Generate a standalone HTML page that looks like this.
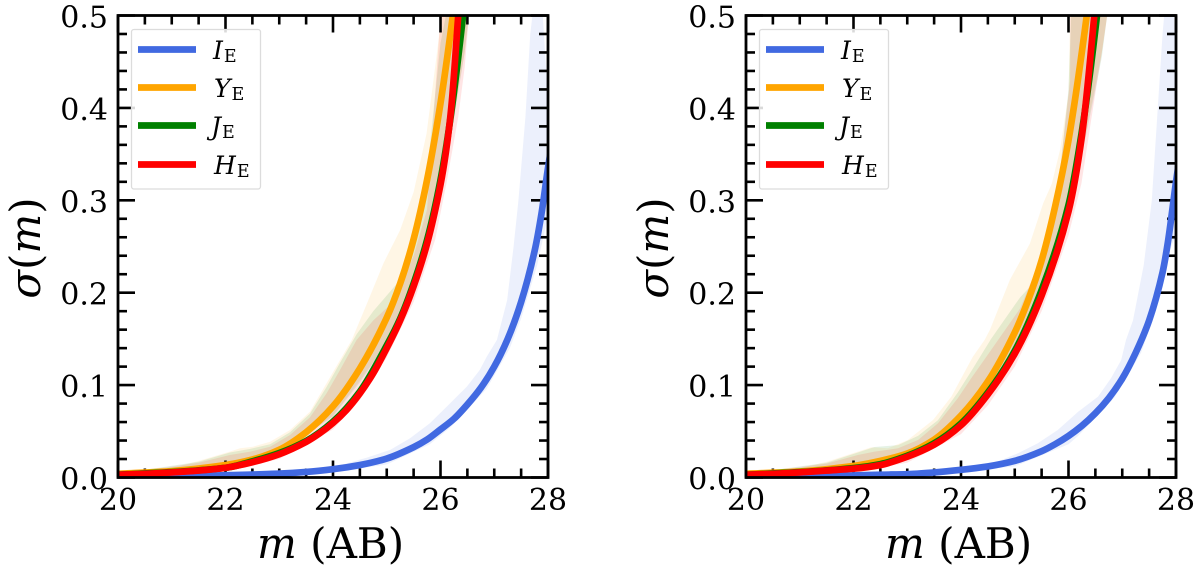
<!DOCTYPE html>
<html>
<head>
<meta charset="utf-8">
<title>Magnitude uncertainty panels</title>
<style>
html,body{margin:0;padding:0;background:#fff;width:1200px;height:568px;overflow:hidden}
svg{display:block}
text{font-family:"DejaVu Serif","Liberation Serif",serif;fill:#000}
</style>
</head>
<body>
<svg id="chart" width="1200" height="568" viewBox="0 0 1200 568" xmlns="http://www.w3.org/2000/svg"></svg>
<script>
// Tick labels
const xTickValues = [20, 22, 24, 26, 28];
const yTickValues = [0.0, 0.1, 0.2, 0.3, 0.4, 0.5];
const xMinorValues = [20.5, 21, 21.5, 22.5, 23, 23.5, 24.5, 25, 25.5, 26.5, 27, 27.5];
const yMinorValues = [0.02, 0.04, 0.06, 0.08, 0.12, 0.14, 0.16, 0.18, 0.22, 0.24, 0.26, 0.28, 0.32, 0.34, 0.36, 0.38, 0.42, 0.44, 0.46, 0.48];

// Left panel: band magnitudes and values [m, sigma]
const leftBlueLine = [[20,0],[21,0.0008],[21.5,0.0016],[22,0.0024],[22.5,0.0032],[23,0.0042],[23.5,0.006],[24,0.009],[24.5,0.0135],[25,0.0205],[25.5,0.0328],[25.75,0.041],[26,0.052],[26.25,0.0635],[26.5,0.079],[26.75,0.097],[27,0.12],[27.25,0.15],[27.5,0.19],[27.75,0.245],[27.88,0.286],[28,0.335],[28.1,0.37]];
const leftOrangeLine = [[20,0.004],[21,0.007],[22,0.0135],[22.5,0.0195],[23,0.03],[23.5,0.049],[24,0.077],[24.5,0.118],[25,0.173],[25.25,0.21],[25.5,0.258],[25.75,0.322],[26,0.405],[26.23,0.5],[26.4,0.58]];
const leftGreenLine = [[20,0.003],[21,0.0058],[22,0.0105],[22.5,0.0175],[23,0.0265],[23.5,0.0395],[24,0.0605],[24.5,0.093],[25,0.143],[25.25,0.172],[25.5,0.21],[25.75,0.257],[26,0.322],[26.2,0.395],[26.42,0.5],[26.6,0.6]];
const leftRedLine = [[20,0.003],[20.5,0.004],[21,0.0055],[21.5,0.0075],[22,0.0105],[22.5,0.0165],[23,0.0252],[23.5,0.0385],[23.75,0.0477],[24,0.059],[24.25,0.073],[24.5,0.091],[24.75,0.113],[25,0.14],[25.25,0.17],[25.5,0.207],[25.75,0.253],[26,0.317],[26.1,0.352],[26.2,0.4],[26.33,0.5],[26.45,0.6]];

const leftBlueUpper = [[20,0],[22,0.003],[23,0.006],[24,0.011],[24.63,0.0215],[25.06,0.0298],[25.43,0.0424],[25.8,0.0586],[26.18,0.0803],[26.49,0.0983],[26.73,0.1163],[26.86,0.1307],[27.05,0.149],[27.24,0.192],[27.36,0.25],[27.45,0.3],[27.58,0.39],[27.67,0.48],[27.71,0.5],[27.8,0.6]];
const leftBlueLower = [[20,0],[22,0.0015],[23,0.003],[24,0.006],[25,0.014],[25.8,0.036],[26.18,0.054],[26.86,0.096],[27.29,0.14],[27.5,0.172],[27.8,0.23],[28.1,0.31]];
const leftOrangeUpper = [[20,0.004],[20.5,0.006],[21,0.01],[21.5,0.018],[22.08,0.028],[22.27,0.0316],[22.51,0.0333],[22.83,0.0387],[23.2,0.0514],[23.57,0.0712],[23.88,0.102],[24.13,0.127],[24.35,0.149],[24.63,0.188],[24.94,0.232],[25.25,0.268],[25.5,0.309],[25.74,0.372],[25.9,0.444],[26.02,0.5],[26.1,0.6]];
const leftOrangeLower = [[20,0.003],[22,0.011],[23,0.027],[24,0.067],[24.5,0.105],[25,0.146],[25.5,0.208],[26,0.31],[26.2,0.38],[26.3,0.41],[26.45,0.46],[26.53,0.5],[26.7,0.6]];
const leftGreenUpper = [[20,0.004],[21.5,0.017],[22.08,0.027],[22.46,0.031],[22.83,0.036],[23.2,0.049],[23.57,0.069],[23.88,0.098],[24.13,0.124],[24.44,0.155],[24.75,0.18],[25.25,0.214],[25.5,0.26],[25.75,0.33],[26,0.47],[26.1,0.5],[26.3,0.6]];
const leftGreenLower = [[20,0.003],[22,0.011],[23,0.026],[24,0.066],[24.5,0.103],[25,0.145],[25.5,0.205],[26,0.3],[26.2,0.37],[26.45,0.46],[26.53,0.5],[26.7,0.6]];
const leftRedUpper = [[20,0.004],[21.5,0.016],[22.08,0.0243],[22.46,0.028],[22.83,0.0333],[23.2,0.046],[23.57,0.0651],[23.88,0.0911],[24.13,0.1163],[24.44,0.149],[24.75,0.17],[25.12,0.19],[25.5,0.24],[25.75,0.29],[26,0.5],[26.1,0.6]];
const leftRedLower = [[20,0.002],[22,0.007],[23,0.02],[24,0.052],[24.5,0.084],[25,0.13],[25.5,0.19],[25.9,0.257],[26.11,0.318],[26.33,0.39],[26.45,0.444],[26.53,0.5],[26.7,0.6]];

// Right panel values [m, sigma]
const rightBlueLine = [[20,0],[21,0.0008],[21.5,0.0015],[22,0.0022],[22.5,0.003],[23,0.0036],[23.5,0.0055],[24,0.0083],[24.5,0.012],[25,0.018],[25.5,0.0285],[25.75,0.036],[26,0.045],[26.25,0.056],[26.5,0.0695],[26.75,0.086],[27,0.107],[27.25,0.135],[27.5,0.17],[27.75,0.222],[27.85,0.255],[28,0.32],[28.05,0.34]];
const rightOrangeLine = [[20,0.004],[21,0.0065],[22,0.0125],[22.5,0.018],[23,0.026],[23.5,0.041],[24,0.067],[24.5,0.104],[25,0.157],[25.25,0.192],[25.5,0.235],[25.75,0.293],[26,0.365],[26.34,0.5],[26.5,0.58]];
const rightGreenLine = [[20,0.003],[21,0.0058],[22,0.0102],[22.5,0.0145],[23,0.0235],[23.5,0.037],[24,0.0585],[24.5,0.092],[25,0.137],[25.5,0.203],[26,0.295],[26.25,0.375],[26.53,0.5],[26.7,0.6]];
const rightRedLine = [[20,0.003],[20.5,0.004],[21,0.0055],[21.5,0.0075],[22,0.0095],[22.5,0.0135],[23,0.0225],[23.5,0.0355],[24,0.0565],[24.5,0.09],[25,0.134],[25.5,0.197],[26,0.288],[26.25,0.37],[26.48,0.5],[26.6,0.58]];

const rightBlueUpper = [[20,0],[22,0.003],[23,0.005],[24,0.009],[24.69,0.0175],[25.06,0.0262],[25.43,0.037],[25.8,0.0514],[26.18,0.0712],[26.55,0.0875],[26.79,0.1074],[26.98,0.127],[27.07,0.149],[27.2,0.17],[27.4,0.23],[27.55,0.3],[27.65,0.39],[27.75,0.48],[27.78,0.5],[27.9,0.6]];
const rightBlueLower = [[20,0],[22,0.0015],[23,0.003],[24,0.006],[25,0.012],[26,0.036],[26.18,0.045],[26.86,0.087],[27.35,0.135],[27.6,0.175],[27.85,0.24],[28.1,0.28]];
const rightOrangeUpper = [[20,0.004],[20.5,0.006],[21,0.01],[21.5,0.017],[22.08,0.028],[22.33,0.0327],[22.64,0.0316],[23.01,0.0406],[23.48,0.0622],[23.82,0.0875],[24.22,0.1307],[24.44,0.149],[24.54,0.16],[24.91,0.214],[25.28,0.253],[25.53,0.297],[25.69,0.318],[25.84,0.354],[26,0.415],[26.03,0.5],[26.1,0.6]];
const rightOrangeLower = [[20,0.003],[22,0.01],[23,0.022],[24,0.06],[24.5,0.095],[25,0.14],[25.5,0.2],[26,0.28],[26.2,0.34],[26.45,0.41],[26.62,0.46],[26.72,0.5],[26.85,0.6]];
const rightGreenUpper = [[20,0.004],[21.5,0.016],[22.08,0.027],[22.39,0.033],[22.83,0.035],[23.2,0.045],[23.57,0.062],[23.94,0.092],[24.19,0.115],[24.56,0.15],[25.1,0.195],[25.34,0.21],[25.6,0.265],[25.84,0.33],[26,0.42],[26.05,0.5],[26.2,0.6]];
const rightGreenLower = [[20,0.003],[22,0.01],[23,0.021],[24,0.059],[24.5,0.093],[25,0.138],[25.5,0.198],[26,0.278],[26.2,0.335],[26.45,0.405],[26.62,0.455],[26.72,0.5],[26.85,0.6]];
const rightRedUpper = [[20,0.004],[21.5,0.015],[22.08,0.0243],[22.39,0.028],[22.83,0.0316],[23.2,0.0406],[23.57,0.0586],[23.94,0.0857],[24.19,0.1074],[24.56,0.138],[25.1,0.183],[25.5,0.24],[25.8,0.31],[26.03,0.43],[26.04,0.6]];
const rightRedLower = [[20,0.002],[22,0.006],[23,0.016],[24,0.047],[24.5,0.078],[25,0.12],[25.5,0.18],[26,0.262],[26.24,0.318],[26.43,0.39],[26.62,0.46],[26.72,0.5],[26.85,0.6]];

const seriesNames = ['I', 'Y', 'J', 'H'];
const seriesColors = ['royalblue', 'orange', 'green', 'red'];

const NS = 'http://www.w3.org/2000/svg';
const svg = document.getElementById('chart');
const AX_W = 430, AX_TOP = 15.5, AX_BOTTOM = 477.5;

function mk(tag, parent, attrs) {
  const el = document.createElementNS(NS, tag);
  for (const k in attrs) el.setAttribute(k, attrs[k]);
  parent.appendChild(el);
  return el;
}

// Monotone cubic path through pixel points.
function smoothPath(p) {
  const n = p.length, d = [], t = [];
  for (let i = 0; i < n - 1; i++) d.push((p[i + 1][1] - p[i][1]) / (p[i + 1][0] - p[i][0]));
  t.push(d[0]);
  for (let i = 1; i < n - 1; i++) {
    t.push(d[i - 1] * d[i] <= 0 ? 0 : 2 * d[i - 1] * d[i] / (d[i - 1] + d[i]));
  }
  t.push(d[n - 2]);
  let s = 'M' + p[0][0].toFixed(2) + ' ' + p[0][1].toFixed(2);
  for (let i = 0; i < n - 1; i++) {
    const h = (p[i + 1][0] - p[i][0]) / 3;
    s += 'C' + (p[i][0] + h).toFixed(2) + ' ' + (p[i][1] + t[i] * h).toFixed(2) + ' ' +
      (p[i + 1][0] - h).toFixed(2) + ' ' + (p[i + 1][1] - t[i + 1] * h).toFixed(2) + ' ' +
      p[i + 1][0].toFixed(2) + ' ' + p[i + 1][1].toFixed(2);
  }
  return s;
}

function drawPanel(key, left, lines, uppers, lowers) {
  const xScale = m => left + (m - 20) / 8 * AX_W;
  const yScale = s => AX_BOTTOM - s / 0.5 * (AX_BOTTOM - AX_TOP);
  const g = mk('g', svg, {});
  
  

  const clipId = 'clip-' + key;
  const defs = mk('defs', g, {});
  const cp = mk('clipPath', defs, {id: clipId});
  mk('rect', cp, {x: left, y: AX_TOP, width: AX_W, height: AX_BOTTOM - AX_TOP});

  const pts = arr => arr.map(p => xScale(p[0]).toFixed(2) + ',' + yScale(p[1]).toFixed(2)).join(' ');

  uppers.forEach((up, i) => {
    const band = mk('polygon', g, {
      points: pts(up) + ' ' + pts(lowers[i].slice().reverse()),
      fill: seriesColors[i], 'fill-opacity': 0.1, stroke: 'none', 'clip-path': 'url(#' + clipId + ')'
    });
    
    
  });

  const tickStroke = {stroke: '#000', 'stroke-width': 2.6};
  const ticks = mk('g', g, tickStroke);
  
  
  const xTick = (v, len) => {
    const x = xScale(v);
    mk('line', ticks, {x1: x, x2: x, y1: AX_BOTTOM, y2: AX_BOTTOM - len});
    mk('line', ticks, {x1: x, x2: x, y1: AX_TOP, y2: AX_TOP + len});
  };
  const yTick = (v, len) => {
    const y = yScale(v);
    mk('line', ticks, {x1: left, x2: left + len, y1: y, y2: y});
    mk('line', ticks, {x1: left + AX_W, x2: left + AX_W - len, y1: y, y2: y});
  };
  xTickValues.forEach(v => xTick(v, 17));
  yTickValues.forEach(v => yTick(v, 17));
  xMinorValues.forEach(v => xTick(v, 9));
  yMinorValues.forEach(v => yTick(v, 9));

  lines.forEach((ln, i) => {
    const line = mk('path', g, {
      d: smoothPath(ln.map(p => [xScale(p[0]), yScale(p[1])])), fill: 'none', stroke: seriesColors[i], 'stroke-width': 6.7,
      'stroke-linejoin': 'round', 'clip-path': 'url(#' + clipId + ')'
    });
    
    
  });

  const frame = mk('rect', g, {x: left, y: AX_TOP, width: AX_W, height: AX_BOTTOM - AX_TOP, fill: 'none', stroke: '#000', 'stroke-width': 2.8});
  
  

  xTickValues.forEach(v => {
    const t = mk('text', g, {x: xScale(v), y: 510, 'text-anchor': 'middle', 'font-size': 30});
    t.textContent = String(v);
    
    
  });
  yTickValues.forEach(v => {
    const t = mk('text', g, {x: left - 10, y: yScale(v) + 12, 'text-anchor': 'end', 'font-size': 30});
    t.textContent = v.toFixed(1);
    
    
  });

  const xl = mk('text', g, {x: left + 139, y: 558, 'font-size': 42});
  
  
  const xm = mk('tspan', xl, {'font-style': 'italic'});
  xm.textContent = 'm';
  const xr = mk('tspan', xl, {});
  xr.textContent = ' (AB)';

  const yl = mk('text', g, {x: 0, y: 0, 'font-size': 42, 'text-anchor': 'middle', transform: 'translate(' + (left - 78) + ' 248) rotate(-90)'});
  
  
  const ys = mk('tspan', yl, {'font-style': 'italic'});
  ys.textContent = 'σ';
  const yp = mk('tspan', yl, {});
  yp.textContent = '(';
  const ym = mk('tspan', yl, {'font-style': 'italic'});
  ym.textContent = 'm';
  const yq = mk('tspan', yl, {});
  yq.textContent = ')';

  const lg = mk('g', g, {});
  
  
  mk('rect', lg, {x: left + 13.5, y: 29.5, width: 129, height: 159.5, rx: 2.5, fill: '#fff', 'fill-opacity': 0.85, stroke: '#dcdcdc', 'stroke-width': 1.3});
  const rowY = [49.5, 87.5, 125.5, 164.5];
  const textX = [95, 96, 93, 96];
  seriesNames.forEach((n, i) => {
    const entry = mk('g', lg, {});
    
    
    mk('line', entry, {x1: left + 20, x2: left + 78, y1: rowY[i], y2: rowY[i], stroke: seriesColors[i], 'stroke-width': 6.7});
    const t = mk('text', entry, {x: left + textX[i], y: rowY[i] + 9.5, 'font-size': 25});
    const a = mk('tspan', t, {'font-style': 'italic'});
    a.textContent = n;
    const b = mk('tspan', t, {'font-size': 17.5, dy: 3, dx: 1});
    b.textContent = 'E';
  });
}

drawPanel('left', 118,
  [leftBlueLine, leftOrangeLine, leftGreenLine, leftRedLine],
  [leftBlueUpper, leftOrangeUpper, leftGreenUpper, leftRedUpper],
  [leftBlueLower, leftOrangeLower, leftGreenLower, leftRedLower]);
drawPanel('right', 746,
  [rightBlueLine, rightOrangeLine, rightGreenLine, rightRedLine],
  [rightBlueUpper, rightOrangeUpper, rightGreenUpper, rightRedUpper],
  [rightBlueLower, rightOrangeLower, rightGreenLower, rightRedLower]);
</script>
</body>
</html>
